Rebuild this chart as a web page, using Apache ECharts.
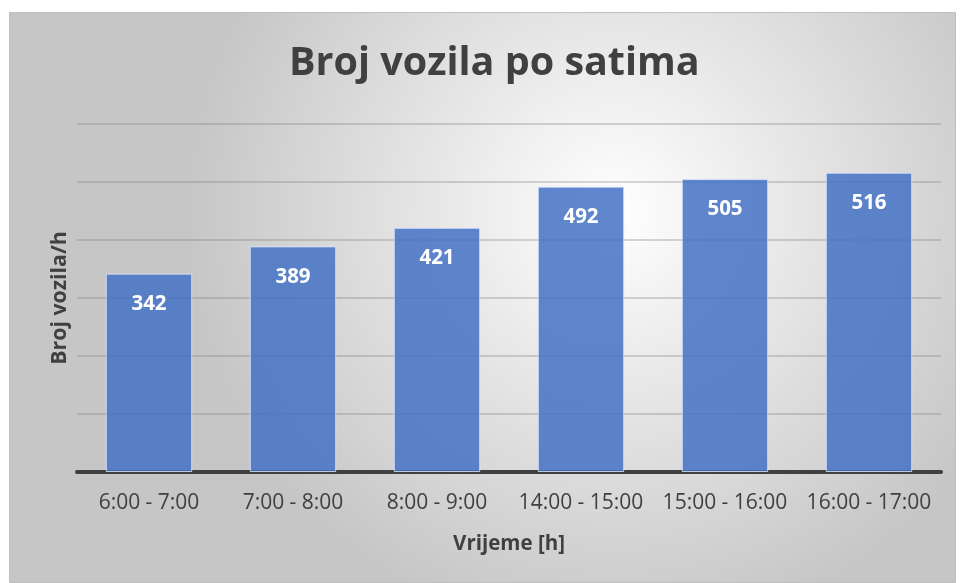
<!DOCTYPE html>
<html><head><meta charset="utf-8">
<script src="https://cdn.jsdelivr.net/npm/echarts@6/dist/echarts.min.js"></script>
<style>html,body{margin:0;padding:0;background:#fff}#c{width:960px;height:583px}</style>
</head><body><div id="c"></div>
<script>
const categories = ['6:00 - 7:00','7:00 - 8:00','8:00 - 9:00','14:00 - 15:00','15:00 - 16:00','16:00 - 17:00'];
const values = [342, 389, 421, 492, 505, 516];
const titleText = 'Broj vozila po satima';
const xTitle = 'Vrijeme [h]';
const yTitle = 'Broj vozila/h';
const FONT = '"Open Sans", Lato, sans-serif';
const chart = echarts.init(document.getElementById('c'));
chart.setOption({
  animation: false,
  graphic: [{
    type: 'rect', z: -10, silent: true,
    shape: {x: 9.5, y: 12.5, width: 946, height: 570},
    style: {
      fill: {type: 'radial', x: 0.64, y: 0.35, r: 0.75,
        colorStops: [{offset: 0, color: '#ffffff'}, {offset: 1, color: '#c6c6c6'}]},
      stroke: '#bfbfbf', lineWidth: 1
    }
  }],
  title: {
    text: titleText, left: 284, top: 39,
    textStyle: {fontFamily: FONT, fontWeight: 'bold', fontSize: 39.5, color: '#404040'}
  },
  grid: {left: 77, right: 19, top: 124, bottom: 111, containLabel: false},
  xAxis: {
    type: 'category', data: categories,
    name: xTitle, nameLocation: 'middle', nameGap: 62,
    nameTextStyle: {fontFamily: FONT, fontWeight: 'bold', fontSize: 20.5, color: '#404040'},
    axisLine: {lineStyle: {color: '#404040', width: 4}},
    axisTick: {show: false},
    axisLabel: {fontFamily: FONT, fontSize: 21, color: '#404040', margin: 21, interval: 0}
  },
  yAxis: {
    type: 'value', min: 0, max: 600, interval: 100,
    name: yTitle, nameLocation: 'middle', nameGap: 7,
    nameTextStyle: {fontFamily: FONT, fontWeight: 'bold', fontSize: 21.3, color: '#404040'},
    axisLabel: {show: false},
    axisLine: {show: false}, axisTick: {show: false},
    splitLine: {lineStyle: {color: 'rgba(120,120,120,0.4)', width: 1.5}}
  },
  series: [{
    type: 'bar', data: values, barCategoryGap: '40%',
    itemStyle: {color: 'rgba(68,114,196,0.85)', borderColor: 'rgba(220,230,250,0.8)', borderWidth: 1},
    label: {show: true, position: 'insideTop', distance: 20,
      fontFamily: FONT, fontWeight: 'bold', fontSize: 20.5, color: '#ffffff'}
  }]
});
</script></body></html>
